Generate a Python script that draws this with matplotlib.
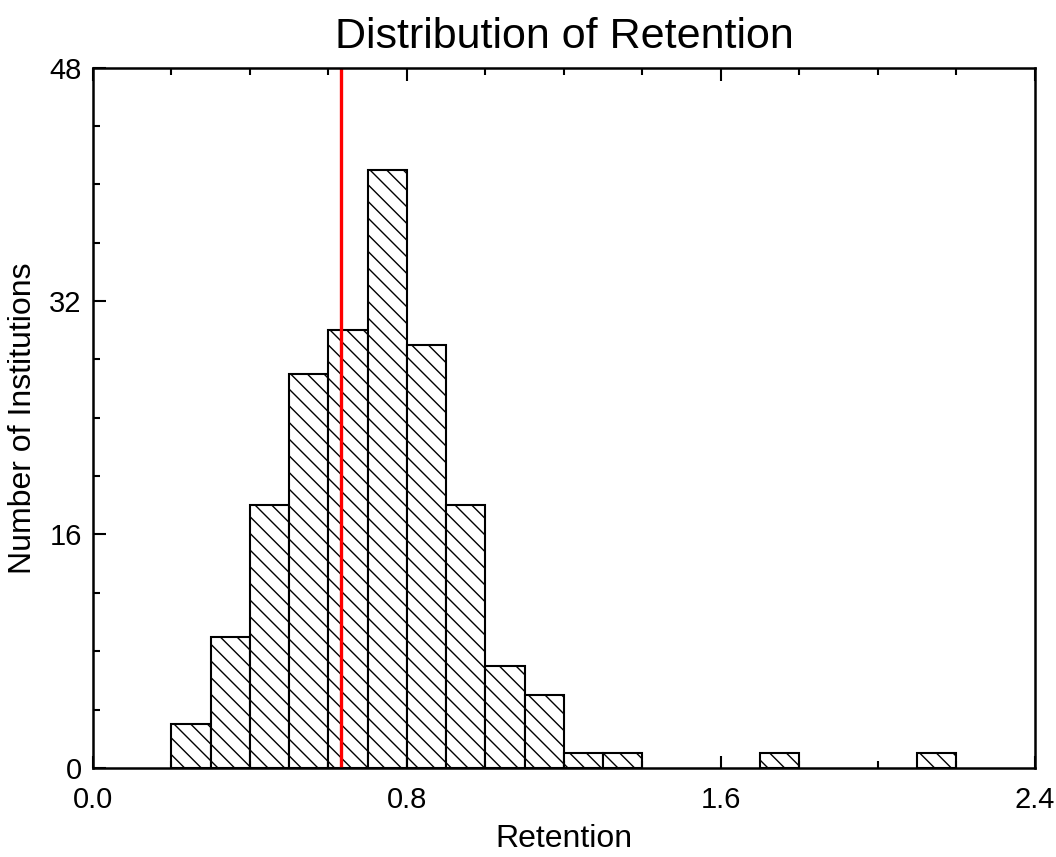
import matplotlib
matplotlib.use("Agg")
import matplotlib.pyplot as plt
from matplotlib.ticker import MultipleLocator, FormatStrFormatter

plt.rcParams['font.family'] = ['Liberation Sans', 'DejaVu Sans']
plt.rcParams['hatch.linewidth'] = 1.0

bin_edges = [0.2, 0.3, 0.4, 0.5, 0.6, 0.7, 0.8, 0.9, 1.0, 1.1, 1.2, 1.3, 1.7, 2.1]
counts = [3, 9, 18, 27, 30, 41, 29, 18, 7, 5, 1, 1, 1, 1]
bin_width = 0.1
mean_retention = 0.632

fig = plt.figure(figsize=(10.56, 8.57), dpi=100)
ax = fig.add_axes([0.088, 0.104, 0.892, 0.817])

ax.bar(bin_edges, counts, width=bin_width, align='edge', facecolor='white',
       edgecolor='black', linewidth=1.5, hatch='\\\\')
ax.axvline(mean_retention, color='#ff0000', linewidth=2.4)

ax.set_xlim(0, 2.4)
ax.set_ylim(0, 48)
ax.xaxis.set_major_locator(MultipleLocator(0.8))
ax.xaxis.set_minor_locator(MultipleLocator(0.2))
ax.yaxis.set_major_locator(MultipleLocator(16))
ax.yaxis.set_minor_locator(MultipleLocator(4))
ax.xaxis.set_major_formatter(FormatStrFormatter('%.1f'))
ax.tick_params(which='both', direction='in', top=True, right=False, width=1.5,
               labelsize=21)
ax.tick_params(which='major', length=9)
ax.tick_params(which='minor', length=5)
ax.tick_params(axis='x', pad=13)
ax.tick_params(axis='y', pad=8)
for s in ax.spines.values():
    s.set_linewidth(1.8)

ax.set_title('Distribution of Retention', fontsize=31, pad=14)
ax.set_xlabel('Retention', fontsize=23, labelpad=7)
ax.set_ylabel('Number of Institutions', fontsize=23, labelpad=8)

fig.savefig('out.png', dpi=100)
